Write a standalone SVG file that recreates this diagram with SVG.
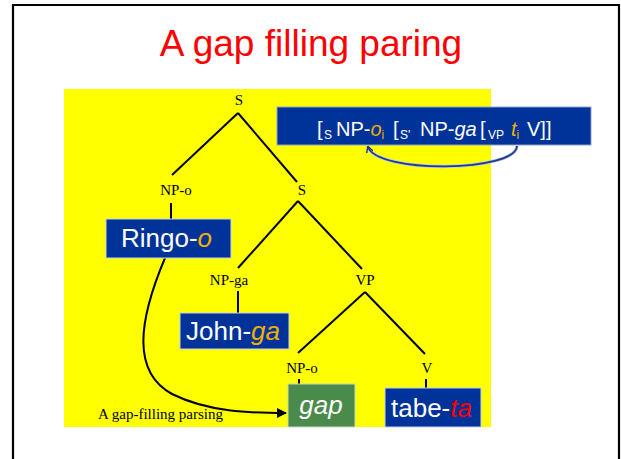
<svg xmlns="http://www.w3.org/2000/svg" width="621" height="459" viewBox="0 0 621 459">
  <style>
    .cat { font-family: "Liberation Serif", "Times New Roman", serif; font-size: 15px; fill: #000; text-anchor: middle; }
    .word { font-family: "Liberation Sans", Arial, sans-serif; font-size: 26px; fill: #fff; }
    .box { fill: #003399; stroke: #c8d0e8; stroke-width: 1; }
    .edge { stroke: #000; stroke-width: 2; fill: none; }
    .suf { fill: #f0b000; font-style: italic; }
    .sub { font-size: 12px; }
  </style>
  <defs>
    <marker id="headBlack" viewBox="0 0 10 10" refX="9" refY="5" markerWidth="5" markerHeight="5" orient="auto" markerUnits="strokeWidth">
      <path d="M0,0 L10,5 L0,10 z" fill="#000"/>
    </marker>
    <marker id="headBlue" viewBox="0 0 10 10" refX="8" refY="5" markerWidth="4" markerHeight="4" orient="auto" markerUnits="strokeWidth">
      <path d="M0,0 L9,5 L0,10" fill="none" stroke="#1f3a8a" stroke-width="2"/>
    </marker>
  </defs>

  <!-- page -->
  <rect x="0" y="0" width="621" height="459" fill="#fff"/>
  <path d="M13,470 L13,5 L619,5 L619,470" fill="none" stroke="#000" stroke-width="2.2"/>

  <!-- title -->
  <text x="311" y="56" font-family="'Liberation Sans', Arial, sans-serif" font-size="37" fill="#ff0000" text-anchor="middle">A gap filling paring</text>

  <!-- yellow panel -->
  <rect x="64" y="89" width="427" height="338" fill="#ffff00"/>

  <!-- bracketed structure -->
  <g id="bracket">
    <rect x="277" y="107" width="314" height="38" fill="#003399" stroke="#8fa0d0" stroke-width="1"/>
    <text y="136" font-family="'Liberation Sans', Arial, sans-serif" font-size="20" fill="#fff">
      <tspan x="317">[</tspan><tspan x="324" dy="3" class="sub">S</tspan><tspan x="336" dy="-3">NP-</tspan><tspan class="suf">o</tspan><tspan class="sub" dy="3" fill="#f0b000">i</tspan><tspan x="393" dy="-3">[</tspan><tspan x="400" dy="3" class="sub">S'</tspan><tspan x="420" dy="-3">NP-</tspan><tspan font-style="italic">ga</tspan><tspan x="480">[</tspan><tspan x="488" dy="3" class="sub">VP</tspan><tspan x="511" dy="-3" class="suf">t</tspan><tspan class="sub" dy="3" fill="#f0b000">i</tspan><tspan x="527" dy="-3">V]]</tspan>
    </text>
  </g>

  <!-- connectors -->
  <g id="connectors">
    <line class="edge" x1="238" y1="113" x2="172" y2="175"/>
    <line class="edge" x1="238" y1="113" x2="297" y2="182"/>
    <line class="edge" x1="171" y1="203" x2="171" y2="219"/>
    <line class="edge" x1="298" y1="201" x2="238" y2="268"/>
    <line class="edge" x1="298" y1="201" x2="362" y2="269"/>
    <line class="edge" x1="238" y1="291" x2="238" y2="313"/>
    <line class="edge" x1="365" y1="292" x2="298" y2="353"/>
    <line class="edge" x1="365" y1="292" x2="425" y2="354"/>
    <line class="edge" x1="299" y1="379" x2="299" y2="384"/>
    <line class="edge" x1="426" y1="379" x2="426" y2="388"/>
    <!-- movement arrow from the fronted object to its gap -->
    <path class="edge" d="M165,258 C138,322 132,372 172,394 C208,412 250,413 286,413" marker-end="url(#headBlack)"/>
    <!-- trace-binding arc -->
    <path d="M517,146 C516,172 378,174 368,147" fill="none" stroke="#b8c6ee" stroke-width="3.5"/>
    <path d="M517,146 C516,172 378,174 368,147" fill="none" stroke="#1f3a8a" stroke-width="1.8" marker-end="url(#headBlue)"/>
  </g>

  <!-- category labels -->
  <g id="S_root"><text class="cat" x="239" y="105">S</text></g>
  <g id="NPo_top"><text class="cat" x="176" y="195">NP-o</text></g>
  <g id="S_inner"><text class="cat" x="302" y="195">S</text></g>
  <g id="NPga"><text class="cat" x="229" y="285">NP-ga</text></g>
  <g id="VP"><text class="cat" x="365" y="285">VP</text></g>
  <g id="NPo_gap"><text class="cat" x="302" y="373">NP-o</text></g>
  <g id="V"><text class="cat" x="427" y="373">V</text></g>

  <!-- words -->
  <g id="ringo">
    <rect class="box" x="106" y="219" width="125" height="39"/>
    <text class="word" x="121" y="247">Ringo-<tspan class="suf">o</tspan></text>
  </g>
  <g id="john">
    <rect class="box" x="180" y="313" width="109" height="36"/>
    <text class="word" x="186" y="340">John-<tspan class="suf">ga</tspan></text>
  </g>
  <g id="gap">
    <rect x="288" y="384" width="67" height="43" fill="#4a8a4a" stroke="#c8d8c8" stroke-width="1"/>
    <text class="word" x="321" y="414" font-size="31" font-style="italic" text-anchor="middle">gap</text>
  </g>
  <g id="tabeta">
    <rect class="box" x="385" y="388" width="96" height="39"/>
    <text class="word" x="391" y="417">tabe-<tspan fill="#ff0000" font-style="italic">ta</tspan></text>
  </g>

  <g id="caption">
    <text x="98" y="419" font-family="'Liberation Serif', 'Times New Roman', serif" font-size="15" fill="#000">A gap-filling parsing</text>
  </g>
</svg>
